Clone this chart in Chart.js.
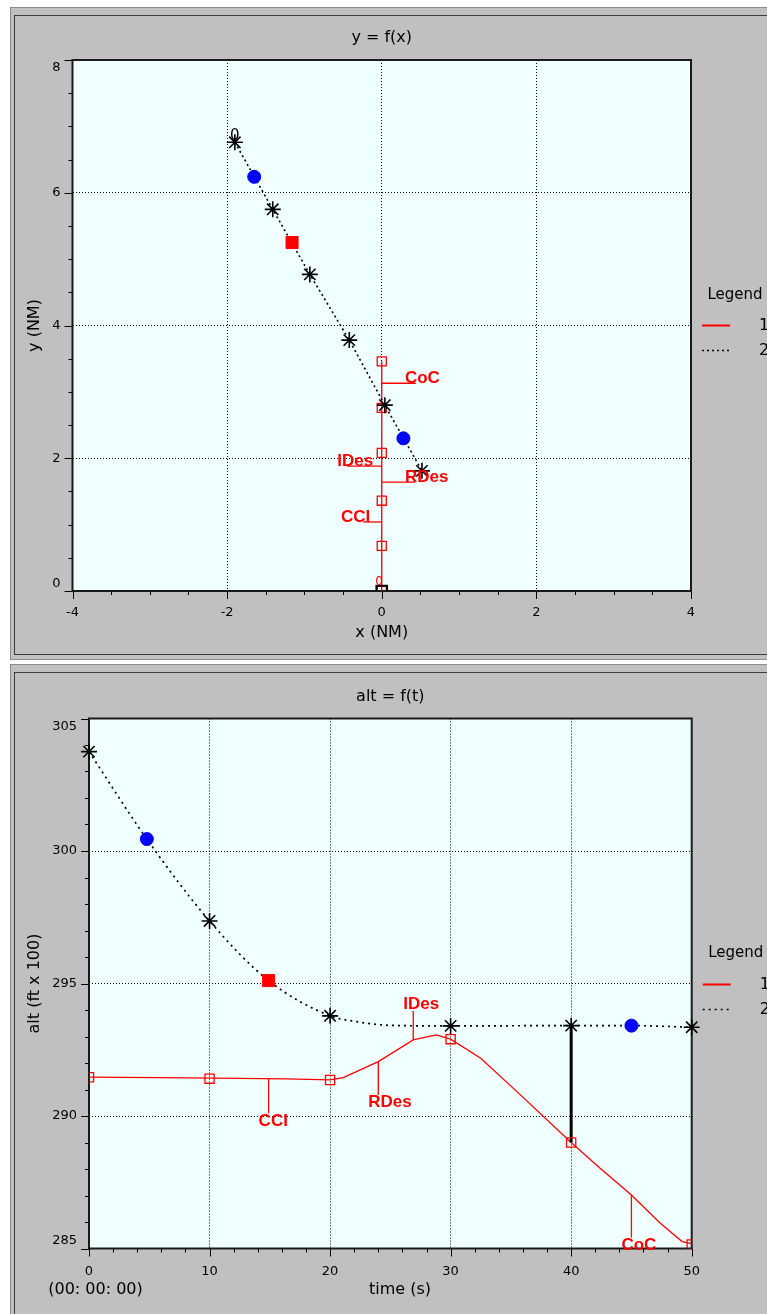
<!DOCTYPE html>
<html>
<head>
<meta charset="utf-8">
<script src="https://cdn.jsdelivr.net/npm/chart.js@4.4.1/dist/chart.umd.min.js"></script>
<style>
    html, body { margin: 0; padding: 0; background: #ffffff; }
    body { width: 767px; height: 1314px; position: relative; overflow: hidden; }
    .panel { position: absolute; left: 10px; width: 790px; background: #c0c0c0; border: 1px solid #8c8c8c; box-sizing: border-box; }
    .panel .inner { position: absolute; left: 3px; top: 7px; right: 0; bottom: 4px; border: 1px solid #3c3c3c; border-right: none; }
    #p1 { top: 7px; height: 653px; }
    #p2 { top: 664px; height: 680px; }
    canvas { position: absolute; left: 0; }
    #xyChart { top: 0; }
    #altChart { top: 660px; }
</style>
</head>
<body>
<div class="panel" id="p1"><div class="inner"></div></div>
<div class="panel" id="p2"><div class="inner"></div></div>
<canvas id="xyChart" width="767" height="660"></canvas>
<canvas id="altChart" width="767" height="654"></canvas>

<script>
// ---------- y = f(x) (NM) ----------
const xyTrack1X = [0, 0, 0, 0, 0, 0];
const xyTrack1Y = [0, 0.68, 1.36, 2.08, 2.76, 3.46];
const xyTrack2X = [-1.90, -1.41, -0.93, -0.42, 0.04, 0.52];
const xyTrack2Y = [6.76, 5.75, 4.77, 3.78, 2.80, 1.81];
const xyBlueX = [-1.65, 0.28];
const xyBlueY = [6.24, 2.30];
const xyRedX = [-1.16];
const xyRedY = [5.25];
const xyOriginX = [0];
const xyOriginY = [0];
const xyTagNames = ['CoC', 'IDes', 'RDes', 'CCI'];
const xyTagY = [3.13, 1.88, 1.64, 1.04];
const xyTagEndX = [0.44, -0.45, 0.43, -0.24];
const xyTagTextX = [0.30, -0.11, 0.30, -0.15];
const xyTicksX = [-4, -2, 0, 2, 4];
const xyTicksY = [0, 2, 4, 6, 8];

// ---------- alt = f(t) (ft x 100 vs s) ----------
const altLine1T = [0, 8.4, 16.4, 20, 21.1, 24, 26.9, 28.8, 30, 32.5, 35.5, 40, 42.4, 45, 47.4, 49.2, 50];
const altLine1A = [291.47, 291.44, 291.40, 291.36, 291.45, 292.05, 292.87, 293.06, 292.90, 292.18, 290.92, 289.00, 288.03, 287.02, 285.95, 285.26, 285.18];
const altSquareT = [0, 10, 20, 30, 40, 50];
const altSquareA = [291.46, 291.41, 291.36, 292.90, 289.00, 285.15];
const altLine2T = [0, 4.8, 10, 14.9, 20, 22.2, 25, 30, 40, 45, 50];
const altLine2A = [303.75, 300.45, 297.36, 295.11, 293.78, 293.56, 293.42, 293.40, 293.41, 293.41, 293.35];
const altStarT = [0, 10, 20, 30, 40, 50];
const altStarA = [303.75, 297.36, 293.78, 293.40, 293.41, 293.35];
const altBlueT = [4.8, 45];
const altBlueA = [300.45, 293.41];
const altRedT = [14.9];
const altRedA = [295.11];
const altGapT = [40, 40];
const altGapA = [293.41, 289.00];
const altTagNames = ['CCI', 'RDes', 'IDes', 'CoC'];
const altTagT = [14.9, 24.0, 26.9, 45.0];
const altTagFrom = [291.41, 292.05, 292.87, 287.02];
const altTagTo = [290.10, 290.79, 293.96, 285.41];
const altTicksT = [0, 10, 20, 30, 40, 50];
const altTicksA = [285, 290, 295, 300, 305];

const pts = (xs, ys) => xs.map((x, i) => ({ x: x, y: ys[i] }));
const isIn = (list, v) => list.some(m => Math.abs(m - v) < 1e-6);
const AXIS_FONT = { family: 'DejaVu Sans', size: 13 };
const TITLE_FONT = { family: 'DejaVu Sans', size: 16 };
const RED = '#ff0000';
const CLEAR = 'rgba(0,0,0,0)';

// panel decorations: plot background, frame, tick marks, tags, title, legend
const panelPlugin = {
    id: 'panel',
    beforeDraw(chart) {
        const { ctx, chartArea: a } = chart;
        ctx.save();
        ctx.fillStyle = '#f0ffff';
        ctx.fillRect(a.left, a.top, a.right - a.left, a.bottom - a.top);
        ctx.restore();
    },
    beforeDatasetsDraw(chart, args, opts) {
        const { ctx, chartArea: a, scales: { x, y } } = chart;
        ctx.save();
        ctx.strokeStyle = '#000';
        ctx.lineWidth = 1;
        x.ticks.forEach(t => {
            const px = Math.round(x.getPixelForValue(t.value)) + 0.5;
            const len = isIn(opts.majorX, t.value) ? 8 : 4;
            ctx.beginPath();
            ctx.moveTo(px, a.bottom);
            ctx.lineTo(px, a.bottom + len);
            ctx.stroke();
        });
        y.ticks.forEach(t => {
            const py = Math.round(y.getPixelForValue(t.value)) + 0.5;
            const len = isIn(opts.majorY, t.value) ? 8 : 4;
            ctx.beginPath();
            ctx.moveTo(a.left, py);
            ctx.lineTo(a.left - len, py);
            ctx.stroke();
        });
        ctx.lineWidth = 2;
        ctx.strokeStyle = '#1a1a1a';
        ctx.strokeRect(a.left, a.top, a.right - a.left, a.bottom - a.top);
        ctx.restore();
    },
    afterDatasetsDraw(chart, args, opts) {
        const { ctx, scales: { x, y } } = chart;
        ctx.save();
        ctx.strokeStyle = RED;
        ctx.fillStyle = RED;
        ctx.lineWidth = 1.3;
        ctx.font = 'bold 17px "Liberation Sans"';
        opts.tags.forEach(tag => {
            ctx.beginPath();
            ctx.moveTo(x.getPixelForValue(tag.x1), y.getPixelForValue(tag.y1));
            ctx.lineTo(x.getPixelForValue(tag.x2), y.getPixelForValue(tag.y2));
            ctx.stroke();
            ctx.textAlign = tag.align;
            ctx.textBaseline = tag.baseline;
            ctx.fillText(tag.name, x.getPixelForValue(tag.tx) + tag.dx, y.getPixelForValue(tag.ty) + tag.dy);
        });
        ctx.restore();
    },
    afterDraw(chart, args, opts) {
        const { ctx, chartArea: a, scales: { x, y } } = chart;
        ctx.save();
        ctx.fillStyle = '#000';
        ctx.textAlign = 'center';
        ctx.textBaseline = 'middle';
        ctx.font = '16px "DejaVu Sans"';
        ctx.fillText(opts.title, (a.left + a.right) / 2, a.top - 22);

        // notes: start labels and extra axis texts
        opts.notes.forEach(n => {
            ctx.fillStyle = n.color;
            ctx.font = n.font;
            const py = n.below !== undefined ? a.bottom + n.below : y.getPixelForValue(n.y);
            ctx.fillText(n.text, x.getPixelForValue(n.x), py);
        });

        // legend
        ctx.fillStyle = '#000';
        ctx.font = '15px "DejaVu Sans"';
        ctx.fillText('Legend', a.right + 44, a.top + 235);
        ctx.textAlign = 'left';
        ctx.font = '16px "DejaVu Sans"';
        chart.data.datasets.filter(d => d.inLegend).forEach((d, i) => {
            const ly = Math.round(a.top + 265 + i * 25) + 0.5;
            ctx.strokeStyle = d.borderColor;
            ctx.lineWidth = d.borderDash ? 1.5 : 2;
            ctx.setLineDash(d.borderDash || []);
            ctx.beginPath();
            ctx.moveTo(a.right + 11, ly);
            ctx.lineTo(a.right + 39, ly);
            ctx.stroke();
            ctx.setLineDash([]);
            ctx.fillText(d.label, a.right + 68, ly);
        });
        ctx.restore();
    }
};

function axis(min, max, step, labels, padding, size, horizontal) {
    return {
        type: 'linear',
        min: min,
        max: max,
        ticks: {
            stepSize: step,
            autoSkip: false,
            maxRotation: 0,
            color: '#000',
            font: AXIS_FONT,
            padding: padding,
            callback: v => {
                if (!isIn(labels, v)) return '';
                // end labels on the vertical axis sit inside the frame
                if (!horizontal && v === max) return ['', String(v)];
                if (!horizontal && v === min) return [String(v), ''];
                return String(v);
            }
        },
        grid: {
            drawTicks: false,
            lineWidth: 1,
            color: c => (c.tick && isIn(labels, c.tick.value) && c.tick.value !== min && c.tick.value !== max) ? '#000' : CLEAR
        },
        border: { display: false, dash: [1, 2] },
        afterFit: s => {
            if (horizontal) { s.height = size; } else { s.width = size; }
        }
    };
}

// ---------- top chart ----------
const xyX = axis(-4, 4, 0.5, xyTicksX, 14, 52.6, true);
xyX.title = { display: true, text: 'x (NM)', color: '#000', font: TITLE_FONT, padding: { top: 0, bottom: 1 } };
const xyY = axis(0, 8, 0.5, xyTicksY, 12, 50, false);
xyY.title = { display: true, text: 'y (NM)', color: '#000', font: TITLE_FONT, padding: { top: 3, bottom: 0 } };

const xyTags = xyTagNames.map((name, i) => ({
    name: name,
    x1: xyTrack1X[0], y1: xyTagY[i], x2: xyTagEndX[i], y2: xyTagY[i],
    tx: xyTagTextX[i], ty: xyTagY[i],
    align: xyTagTextX[i] > 0 ? 'left' : 'right', baseline: 'alphabetic', dx: 0, dy: 0
}));

new Chart(document.getElementById('xyChart'), {
    type: 'scatter',
    data: {
        datasets: [
            { data: pts(xyRedX, xyRedY), pointStyle: 'rect', pointRadius: 8.5, backgroundColor: RED, borderColor: RED, order: 1 },
            { data: pts(xyBlueX, xyBlueY), pointStyle: 'circle', pointRadius: 6.5, backgroundColor: '#0000ff', borderColor: '#0000ff', order: 1 },
            { data: pts(xyOriginX, xyOriginY), pointStyle: 'rect', pointRadius: 7.5, backgroundColor: CLEAR, borderColor: '#000', borderWidth: 2, order: 1 },
            {
                label: '1', inLegend: true, data: pts(xyTrack1X, xyTrack1Y), showLine: true,
                borderColor: RED, borderWidth: 1.3, pointStyle: 'rect', pointRadius: 6.4,
                pointBackgroundColor: CLEAR, pointBorderColor: RED, pointBorderWidth: 1.3, order: 3
            },
            {
                label: '2', inLegend: true, data: pts(xyTrack2X, xyTrack2Y), showLine: true,
                borderColor: '#000', borderWidth: 1.6, borderDash: [2, 3], pointStyle: 'star', pointRadius: 8,
                pointBorderColor: '#000', pointBorderWidth: 1.6, order: 2, clip: false
            }
        ]
    },
    options: {
        responsive: false,
        animation: false,
        layout: { padding: { top: 60, left: 22.5, right: 76, bottom: 16.4 } },
        scales: { x: xyX, y: xyY },
        plugins: {
            legend: { display: false },
            tooltip: { enabled: false },
            panel: {
                title: 'y = f(x)',
                majorX: xyTicksX,
                majorY: xyTicksY,
                tags: xyTags,
                notes: [
                    { text: '0', x: xyTrack2X[0], y: 6.86, color: '#000', font: '15px "DejaVu Sans"' },
                    { text: '0', x: -0.035, y: 0.14, color: RED, font: '12px "DejaVu Sans"' }
                ]
            }
        }
    },
    plugins: [panelPlugin]
});

// ---------- bottom chart ----------
const altX = axis(0, 50, 2, altTicksT, 15, 50, true);
const altY = axis(285, 305, 1, altTicksA, 12, 66.5, false);
altY.title = { display: true, text: 'alt (ft x 100)', color: '#000', font: TITLE_FONT, padding: { top: 3, bottom: 0 } };

const altTags = altTagNames.map((name, i) => {
    const up = altTagTo[i] > altTagFrom[i];
    return {
        name: name,
        x1: altTagT[i], y1: altTagFrom[i], x2: altTagT[i], y2: altTagTo[i],
        tx: altTagT[i], ty: altTagTo[i],
        align: 'left', baseline: up ? 'alphabetic' : 'top', dx: -10, dy: up ? -2 : -1
    };
});

new Chart(document.getElementById('altChart'), {
    type: 'scatter',
    data: {
        datasets: [
            { data: pts(altRedT, altRedA), pointStyle: 'rect', pointRadius: 8.5, backgroundColor: RED, borderColor: RED, order: 1 },
            { data: pts(altBlueT, altBlueA), pointStyle: 'circle', pointRadius: 6.5, backgroundColor: '#0000ff', borderColor: '#0000ff', order: 1 },
            { data: pts(altStarT, altStarA), pointStyle: 'star', pointRadius: 8, borderColor: '#000', borderWidth: 1.6, order: 1, clip: false },
            {
                data: pts(altSquareT, altSquareA), pointStyle: 'rect', pointRadius: 6.5,
                backgroundColor: CLEAR, borderColor: RED, borderWidth: 1.3, order: 1
            },
            { data: pts(altGapT, altGapA), showLine: true, borderColor: '#000', borderWidth: 3, pointRadius: 0, order: 2 },
            {
                label: '1', inLegend: true, data: pts(altLine1T, altLine1A), showLine: true,
                borderColor: RED, borderWidth: 1.3, pointRadius: 0, order: 3
            },
            {
                label: '2', inLegend: true, data: pts(altLine2T, altLine2A), showLine: true,
                borderColor: '#000', borderWidth: 1.7, borderDash: [2, 4], cubicInterpolationMode: 'monotone',
                pointRadius: 0, order: 3
            }
        ]
    },
    options: {
        responsive: false,
        animation: false,
        layout: { padding: { top: 58.5, left: 22.5, right: 75.3, bottom: 15.5 } },
        scales: { x: altX, y: altY },
        plugins: {
            legend: { display: false },
            tooltip: { enabled: false },
            panel: {
                title: 'alt = f(t)',
                majorX: altTicksT,
                majorY: altTicksA,
                tags: altTags,
                notes: [
                    { text: '(00: 00: 00)', x: 0.54, below: 41.5, color: '#000', font: '16px "DejaVu Sans"' },
                    { text: 'time (s)', x: 25.8, below: 41.5, color: '#000', font: '16px "DejaVu Sans"' }
                ]
            }
        }
    },
    plugins: [panelPlugin]
});
</script>
</body>
</html>
